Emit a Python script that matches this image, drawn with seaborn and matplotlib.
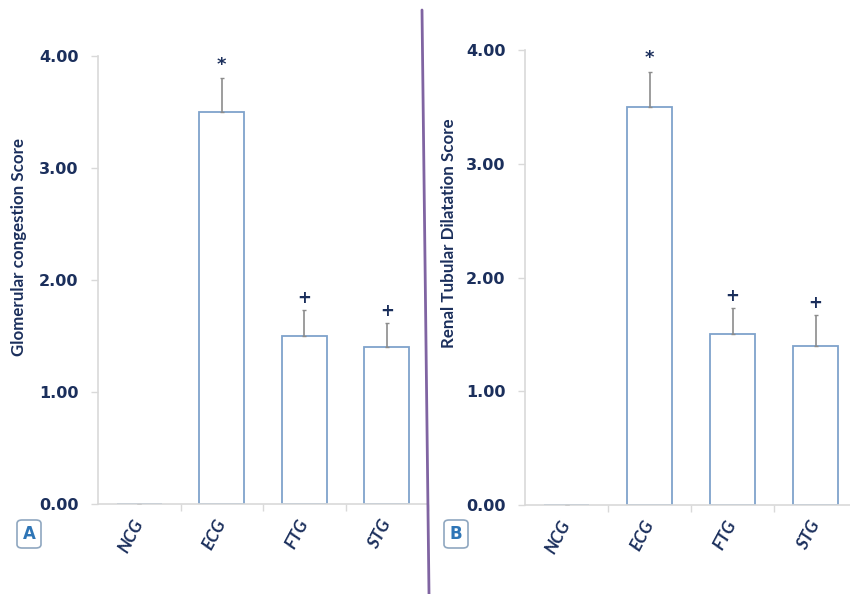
import matplotlib
matplotlib.use("Agg")
import matplotlib.pyplot as plt
import seaborn as sns
import pandas as pd
import numpy as np
from matplotlib.patches import FancyBboxPatch
from matplotlib.lines import Line2D

categories = ["NCG", "ECG", "FTG", "STG"]
glomerular_mean = [0.0, 3.50, 1.50, 1.40]
glomerular_err = [0.0, 0.30, 0.23, 0.22]
glomerular_marks = ["", "*", "+", "+"]
tubular_mean = [0.0, 3.50, 1.50, 1.40]
tubular_err = [0.0, 0.31, 0.23, 0.27]
tubular_marks = ["", "*", "+", "+"]
yticks = [0.0, 1.0, 2.0, 3.0, 4.0]
ytick_labels = ["0.00", "1.00", "2.00", "3.00", "4.00"]

sns.set_theme(style="white")
plt.rcParams["font.family"] = ["DejaVu Sans"]

NAVY = "#1B2F5C"
BAR_EDGE = "#7FA3CB"
SPINE = "#D9D9D9"

fig = plt.figure(figsize=(8.5, 5.94), dpi=100)

def panel(rect, means, errs, marks, ylabel, letter, letter_pos, ylabel_xy):
    ax = fig.add_axes(rect)
    df = pd.DataFrame({"group": categories, "score": means})
    sns.barplot(data=df, x="group", y="score", ax=ax, color="white",
                edgecolor=BAR_EDGE, linewidth=1.3, width=0.55, errorbar=None)
    x = np.arange(len(categories))
    ax.errorbar(x, means, yerr=[np.zeros(len(errs)), errs], fmt="none",
                ecolor="#8C8C8C", elinewidth=1.2, capsize=1.5, capthick=1.0)
    for xi, m, e, t in zip(x, means, errs, marks):
        if t:
            ax.annotate(t, (xi, m + e), xytext=(0, 3 if t == "*" else 2),
                        textcoords="offset points", ha="center", va="bottom",
                        fontsize=12 if t == "+" else 13, fontweight="bold", color=NAVY)
    ax.set_ylim(0, 4)
    ax.set_xlim(-0.5, 3.5)
    ax.set_yticks(yticks)
    ax.set_yticklabels(ytick_labels, fontsize=11.5, fontweight="bold", color=NAVY)
    ax.set_xticks(x)
    ax.set_xticklabels(categories, rotation=62, fontsize=12.5, fontweight="bold",
                       style="italic", color=NAVY, family=["Lato", "DejaVu Sans"])
    ax.set_xticks([0.5, 1.5, 2.5, 3.5], minor=True)
    ax.tick_params(axis="x", which="major", length=0, pad=12)
    ax.tick_params(axis="x", which="minor", length=5, color=SPINE, width=1, direction="out", bottom=True)
    ax.tick_params(axis="y", length=5, color=SPINE, width=1, left=True, pad=9)
    for lab in ax.get_xticklabels():
        lab.set_rotation_mode("anchor")
        lab.set_ha("right")
        lab.set_va("center")
    ax.set_xlabel("")
    ax.set_ylabel("")
    fig.text(ylabel_xy[0] / 850, 1 - ylabel_xy[1] / 594, ylabel, rotation=90, ha="center", va="center",
             fontsize=12.2, fontweight="bold", color=NAVY, family=["Lato", "DejaVu Sans"])
    for s in ["top", "right"]:
        ax.spines[s].set_visible(False)
    for s in ["left", "bottom"]:
        ax.spines[s].set_color(SPINE)
        ax.spines[s].set_linewidth(1.2)
    ax.set_facecolor("none")
    lx, ly = letter_pos
    box = FancyBboxPatch((lx / 850, 1 - (ly + 28) / 594), 24 / 850, 28 / 594,
                         boxstyle="round,pad=0,rounding_size=0.006",
                         transform=fig.transFigure, facecolor="white",
                         edgecolor="#8FA7C0", linewidth=1.2)
    fig.add_artist(box)
    fig.text((lx + 12) / 850, 1 - (ly + 14) / 594, letter, ha="center", va="center",
             fontsize=12, fontweight="bold", color="#2E75B6")
    return ax

panel([98 / 850, 1 - 504 / 594, 330 / 850, 448 / 594],
      glomerular_mean, glomerular_err, glomerular_marks,
      "Glomerular congestion Score", "A", (17, 520), (19, 247))
panel([525 / 850, 1 - 505 / 594, 332 / 850, 455 / 594],
      tubular_mean, tubular_err, tubular_marks,
      "Renal Tubular Dilatation Score", "B", (444, 520), (449, 233))

fig.add_artist(Line2D([422 / 850, 429 / 850], [1 - 10 / 594, 0], transform=fig.transFigure,
                      color="#8064A2", linewidth=2))

fig.savefig("out.png", dpi=100, facecolor="white")
